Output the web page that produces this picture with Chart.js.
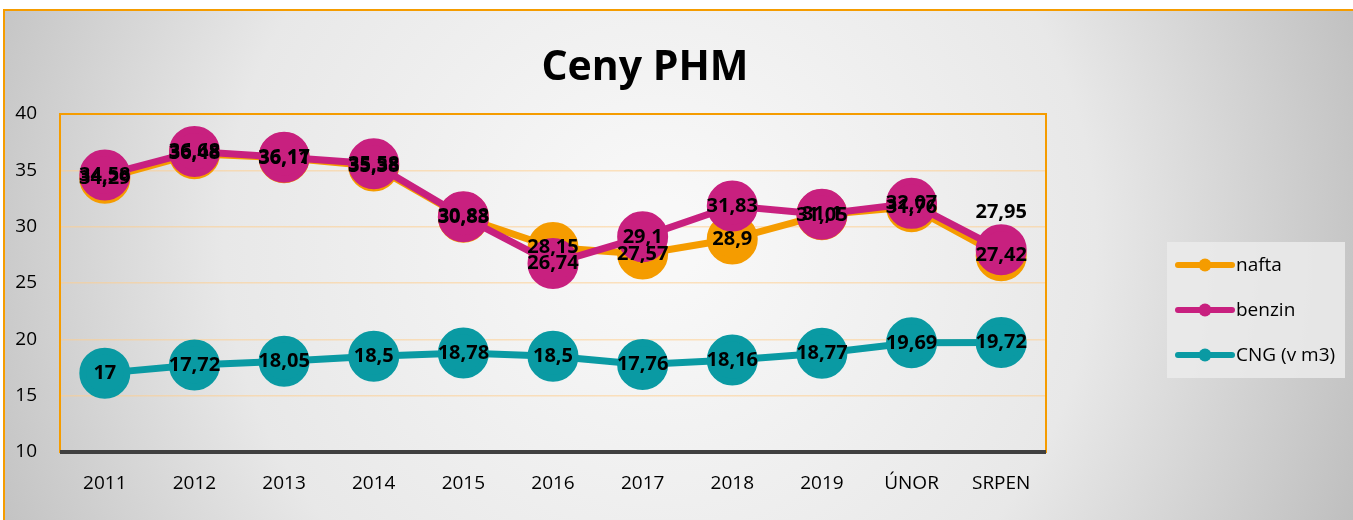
<!DOCTYPE html>
<html>
<head>
<meta charset="utf-8">
<script src="https://cdn.jsdelivr.net/npm/chart.js@4.4.1/dist/chart.umd.min.js"></script>
<style>
  html, body { margin: 0; padding: 0; background: #fff; }
  #wrap { position: absolute; left: 0; top: 0; width: 1353px; height: 520px; }
</style>
</head>
<body>
<div id="wrap"><canvas id="chart" width="1353" height="520"></canvas></div>
<script>
const categories = ["2011", "2012", "2013", "2014", "2015", "2016", "2017", "2018", "2019", "ÚNOR", "SRPEN"];
const nafta = [34.29, 36.48, 36.11, 35.38, 30.83, 28.15, 27.57, 28.9, 31.05, 31.76, 27.42];
const benzin = [34.58, 36.68, 36.17, 35.58, 30.88, 26.74, 29.1, 31.83, 31.1, 32.07, 27.95];
const cng = [17, 17.72, 18.05, 18.5, 18.78, 18.5, 17.76, 18.16, 18.77, 19.69, 19.72];
const yTicks = { min: 10, max: 40, step: 5 };

const FONT = "'Open Sans', 'Liberation Sans', sans-serif";
const colors = { nafta: "#f59c00", benzin: "#c8207f", cng: "#0a9aa3" };

const fmt = (v) => String(v).replace(".", ",");

const series = (label, data, color, order) => ({
  label,
  data,
  order,
  borderColor: color,
  backgroundColor: color,
  pointBackgroundColor: color,
  pointBorderColor: color,
  borderWidth: 7,
  pointRadius: 22,
  pointHoverRadius: 22,
  tension: 0,
});

// background, frame, title, value labels, legend
const decor = {
  id: "decor",
  beforeDraw(chart) {
    const { ctx, width, height } = chart;
    ctx.save();
    ctx.fillStyle = "#fff";
    ctx.fillRect(0, 0, width, height);
    const g = ctx.createRadialGradient(660, 240, 40, 660, 240, 760);
    g.addColorStop(0, "#f8f8f8");
    g.addColorStop(0.55, "#e8e8e8");
    g.addColorStop(1, "#bdbdbd");
    ctx.fillStyle = g;
    ctx.fillRect(4, 10, width - 4, height - 10);
    ctx.strokeStyle = "#f59c00";
    ctx.lineWidth = 2;
    ctx.strokeRect(4, 10, width + 10, height + 10);
    ctx.fillStyle = "#000";
    ctx.font = `bold 41px ${FONT}`;
    ctx.textAlign = "center";
    ctx.textBaseline = "middle";
    ctx.fillText("Ceny PHM", 645, 68);
    ctx.restore();
  },
  beforeDatasetsDraw(chart) {
    const { ctx, chartArea: a } = chart;
    ctx.save();
    ctx.strokeStyle = "#f59c00";
    ctx.lineWidth = 2;
    ctx.strokeRect(a.left, a.top, a.right - a.left, a.bottom - a.top);
    ctx.strokeStyle = "#404040";
    ctx.lineWidth = 4;
    ctx.beginPath();
    ctx.moveTo(a.left, a.bottom);
    ctx.lineTo(a.right, a.bottom);
    ctx.stroke();
    ctx.restore();
  },
  afterDatasetsDraw(chart) {
    const { ctx } = chart;
    ctx.save();
    ctx.font = `bold 20px ${FONT}`;
    ctx.fillStyle = "#000";
    ctx.textAlign = "center";
    ctx.textBaseline = "middle";
    [2, 0, 1].forEach((di) => {
      const ds = chart.data.datasets[di];
      chart.getDatasetMeta(di).data.forEach((pt, i) => {
        let dy = 0;
        if (di === 1 && i === ds.data.length - 1) dy = -37;
        ctx.fillText(fmt(ds.data[i]), pt.x, pt.y + dy);
      });
    });
    // legend
    ctx.fillStyle = "rgba(235,235,235,0.85)";
    ctx.fillRect(1167, 242, 178, 136);
    ctx.font = `19px ${FONT}`;
    ctx.textAlign = "left";
    chart.data.datasets.forEach((ds, i) => {
      const y = 265 + i * 45;
      ctx.strokeStyle = ds.borderColor;
      ctx.lineWidth = 6;
      ctx.lineCap = "round";
      ctx.beginPath();
      ctx.moveTo(1178, y);
      ctx.lineTo(1232, y);
      ctx.stroke();
      ctx.fillStyle = ds.borderColor;
      ctx.beginPath();
      ctx.arc(1205, y, 6.5, 0, Math.PI * 2);
      ctx.fill();
      ctx.fillStyle = "#000";
      ctx.fillText(ds.label, 1236, y + 1);
    });
    ctx.restore();
  },
};

new Chart(document.querySelector("#chart"), {
  type: "line",
  data: {
    labels: categories,
    datasets: [
      series("nafta", nafta, colors.nafta, 1),
      series("benzin", benzin, colors.benzin, 0),
      series("CNG (v m3)", cng, colors.cng, 2),
    ],
  },
  options: {
    responsive: false,
    animation: false,
    events: [],
    layout: { padding: { left: 0, right: 307, top: 114, bottom: 0 } },
    plugins: {
      legend: { display: false },
      title: { display: false },
      tooltip: { enabled: false },
    },
    scales: {
      x: {
        offset: true,
        grid: { display: false, drawTicks: false },
        border: { display: false },
        ticks: {
          color: "#000",
          padding: 20,
          font: { family: FONT, size: 19 },
          maxRotation: 0,
        },
        afterFit: (s) => { s.height = 68; },
      },
      y: {
        min: yTicks.min,
        max: yTicks.max,
        grid: { color: "rgba(255,205,140,0.55)", lineWidth: 1.5, drawTicks: false },
        border: { display: false },
        ticks: {
          stepSize: yTicks.step,
          color: "#000",
          padding: 23,
          font: { family: FONT, size: 19 },
        },
        afterFit: (s) => { s.width = 60; },
      },
    },
  },
  plugins: [decor],
});
</script>
</body>
</html>
